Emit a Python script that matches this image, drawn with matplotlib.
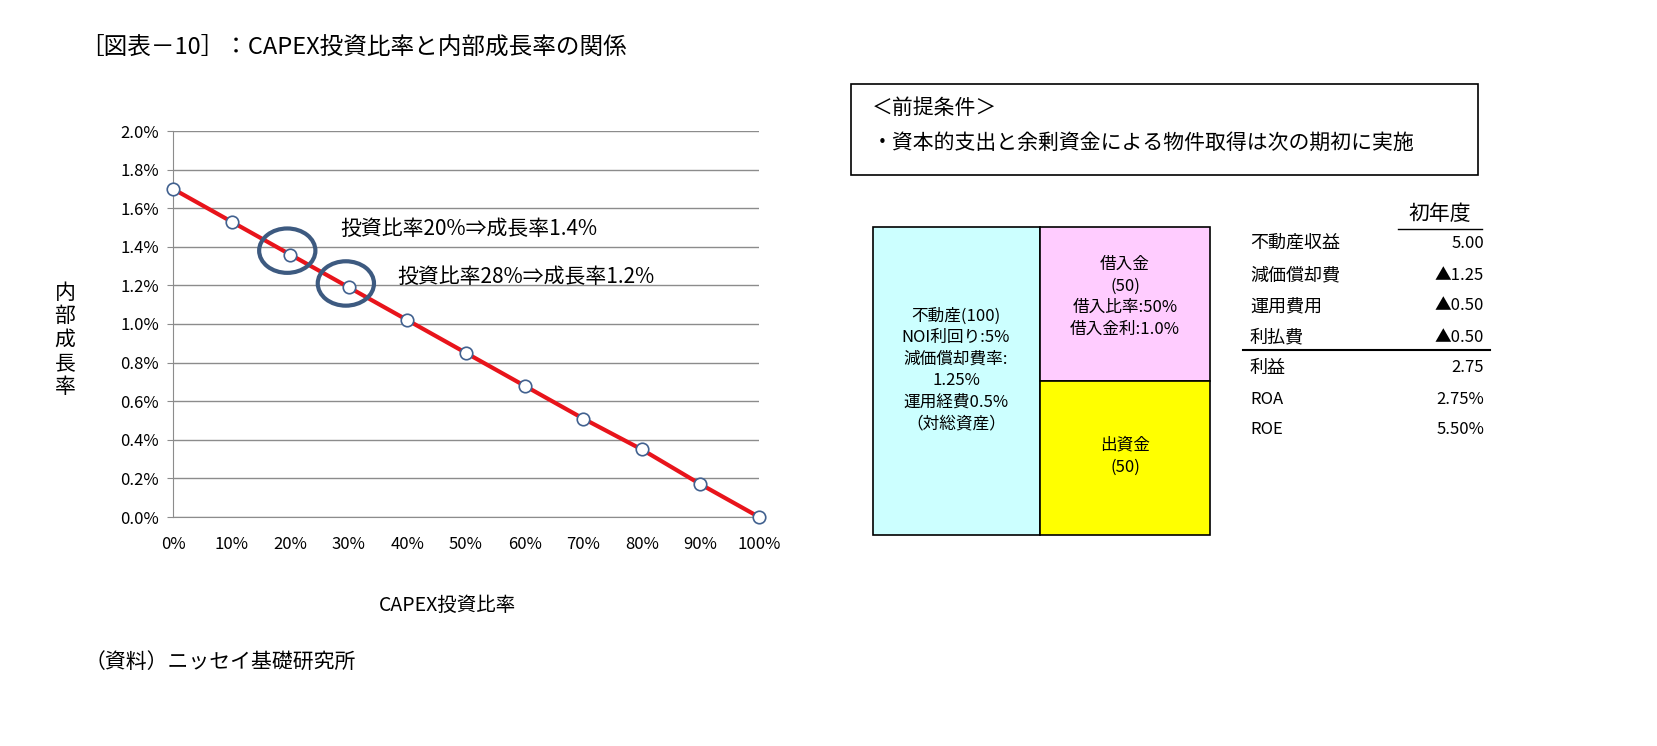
import matplotlib
matplotlib.use("Agg")
import matplotlib.pyplot as plt
from matplotlib.patches import Ellipse, Rectangle

plt.rcParams["font.family"] = ["Noto Sans CJK JP", "DejaVu Sans"]

capex = [0, 10, 20, 30, 40, 50, 60, 70, 80, 90, 100]
growth = [1.70, 1.53, 1.36, 1.19, 1.02, 0.85, 0.68, 0.51, 0.35, 0.17, 0.0]
table_labels = ["不動産収益", "減価償却費", "運用費用", "利払費", "利益", "ROA", "ROE"]
table_values = ["5.00", "▲1.25", "▲0.50", "▲0.50", "2.75", "2.75%", "5.50%"]

W, H = 1657, 746
fig = plt.figure(figsize=(W/100, H/100), dpi=100)
ax = fig.add_axes([173/W, 1-517/H, 586/W, 386/H])
ax.plot(capex, growth, color="#e8141b", lw=3, zorder=2)
ax.plot(capex, growth, "o", ms=9, mfc="white", mec="#41618f", mew=1.2, zorder=3, clip_on=False)
ax.set_xlim(0, 100); ax.set_ylim(0, 2.0)
ax.set_xticks(range(0, 101, 10))
ax.set_xticklabels([f"{v}%" for v in range(0, 101, 10)], fontsize=12)
yt = [i*0.2 for i in range(11)]
ax.set_yticks(yt)
ax.set_yticklabels([f"{v:.1f}%" for v in yt], fontsize=12)
ax.grid(axis="y", color="#8c8c8c", lw=1)
ax.set_axisbelow(True)
for s in ["top", "right"]:
    ax.spines[s].set_visible(False)
for s in ["left", "bottom"]:
    ax.spines[s].set_color("#8c8c8c")
ax.tick_params(axis="x", length=0, pad=14)
ax.tick_params(axis="y", length=4, color="#8c8c8c", pad=6)
for x in (20, 30):
    y = growth[capex.index(x)]
    ax.add_patch(Ellipse((x - 0.5, y + 0.02), 9.6, 0.23, fill=False, ec="#3d5a80", lw=3, zorder=4))

o = fig.add_axes([0, 0, 1, 1]); o.set_xlim(0, W); o.set_ylim(H, 0); o.axis("off")
o.text(80, 47, "［図表－10］：CAPEX投資比率と内部成長率の関係", fontsize=17, va="center")
o.text(340, 229, "投資比率20%⇒成長率1.4%", fontsize=15, va="center")
o.text(397, 277, "投資比率28%⇒成長率1.2%", fontsize=15, va="center")
o.text(65, 340, "内\n部\n成\n長\n率", fontsize=15, va="center", ha="center", linespacing=1.1)
o.text(448, 605, "CAPEX投資比率", fontsize=14, va="center", ha="center")
o.text(85, 662, "（資料）ニッセイ基礎研究所", fontsize=15, va="center")

o.add_patch(Rectangle((851, 84), 627, 91, fill=False, ec="black", lw=1.2))
o.text(872, 108, "＜前提条件＞", fontsize=15, va="center", style="italic")
o.text(872, 143, "・資本的支出と余剰資金による物件取得は次の期初に実施", fontsize=15, va="center", style="italic")

o.add_patch(Rectangle((873, 227), 167, 308, fc="#ccffff", ec="black", lw=1.2))
o.add_patch(Rectangle((1040, 227), 170, 154, fc="#ffccff", ec="black", lw=1.2))
o.add_patch(Rectangle((1040, 381), 170, 154, fc="#ffff00", ec="black", lw=1.2))
o.text(956, 370, "不動産(100)\nNOI利回り:5%\n減価償却費率:\n1.25%\n運用経費0.5%\n（対総資産）",
       fontsize=12, ha="center", va="center", linespacing=1.35)
o.text(1125, 297, "借入金\n(50)\n借入比率:50%\n借入金利:1.0%", fontsize=12, ha="center", va="center", linespacing=1.35)
o.text(1125, 456, "出資金\n(50)", fontsize=12, ha="center", va="center", linespacing=1.45)

o.text(1440, 214, "初年度", fontsize=15, ha="center", va="center")
o.plot([1398, 1482], [229, 229], color="black", lw=1)
ys = [243, 275, 306, 337, 368, 399, 430]
for y, lab, val in zip(ys, table_labels, table_values):
    fs = 13 if lab not in ("ROA", "ROE") else 12
    o.text(1250, y, lab, fontsize=fs, va="center")
    o.text(1484, y, val, fontsize=12, va="center", ha="right")
o.plot([1243, 1490], [350, 350], color="black", lw=1.5)

fig.savefig("out.png", dpi=100)
